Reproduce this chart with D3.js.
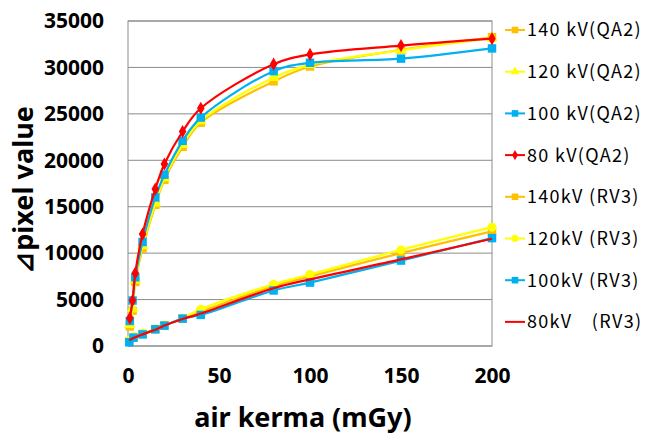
<!DOCTYPE html>
<html>
<head>
<meta charset="utf-8">
<script src="https://cdn.jsdelivr.net/npm/d3@7"></script>
<style>
  body { margin: 0; background: #fff; }
  .axis text { font-family: "Noto Sans", sans-serif; font-weight: bold; font-size: 21px; fill: #000; }
  .axis-title { font-family: "Noto Sans", sans-serif; font-weight: bold; font-size: 27px; fill: #000; }
  .legend text { font-family: "Noto Sans CJK JP", sans-serif; font-size: 18px; letter-spacing: 1.3px; fill: #000; }
</style>
</head>
<body>
<div class="chart"></div>
<script>
// air kerma (mGy) sample points
let xQA2 = [1, 2.5, 4, 8, 15, 20, 30, 40, 80, 100, 150, 200];
let xRV3 = [0.7, 3, 8, 15, 20, 30, 40, 80, 100, 150, 200];

// delta pixel value, QA2
let qa2_140 = [2100, 3800, 6900, 10500, 15200, 17900, 21450, 24050, 28500, 30100, 31900, 33250];
let qa2_120 = [2300, 4000, 7100, 10800, 15400, 18100, 21700, 24250, 28900, 30300, 31850, 33150];
let qa2_100 = [2700, 4900, 7400, 11200, 16000, 18450, 22100, 24600, 29600, 30500, 30950, 32050];
let qa2_80  = [3000, 4900, 7850, 12050, 16900, 19600, 23100, 25600, 30350, 31400, 32350, 33100];

// delta pixel value, RV3
let rv3_140 = [500, 900, 1300, 1800, 2200, 2950, 3700, 6450, 7500, 10000, 12350];
let rv3_120 = [600, 1000, 1350, 1850, 2250, 3000, 3950, 6650, 7700, 10350, 12800];
let rv3_100 = [400, 900, 1250, 1800, 2200, 2950, 3350, 5980, 6830, 9200, 11620];
let rv3_80  = [600, 850, 1250, 1750, 2200, 2900, 3500, 6220, 7180, 9330, 11550];

let seriesNames = ["140 kV(QA2)", "120 kV(QA2)", "100 kV(QA2)", "80 kV(QA2)",
                   "140kV (RV3)", "120kV (RV3)", "100kV (RV3)", "80kV\u3000(RV3)"];
let yTicks = [0, 5000, 10000, 15000, 20000, 25000, 30000, 35000];
let xTicks = [0, 50, 100, 150, 200];

let series = [
    {name: seriesNames[0], x: xQA2, y: qa2_140, color: "#FFC000", marker: "square"},
    {name: seriesNames[1], x: xQA2, y: qa2_120, color: "#FFFF00", marker: "triangle"},
    {name: seriesNames[2], x: xQA2, y: qa2_100, color: "#00B0F0", marker: "square"},
    {name: seriesNames[3], x: xQA2, y: qa2_80,  color: "#FF0000", marker: "diamond"},
    {name: seriesNames[4], x: xRV3, y: rv3_140, color: "#FFC000", marker: "square"},
    {name: seriesNames[5], x: xRV3, y: rv3_120, color: "#FFFF00", marker: "circle"},
    {name: seriesNames[6], x: xRV3, y: rv3_100, color: "#00B0F0", marker: "square"},
    {name: seriesNames[7], x: xRV3, y: rv3_80,  color: "#FF0000", marker: "none"}
];

function init() {
    let margin = {top: 21, right: 158, bottom: 90, left: 128};
    let width = 650 - margin.left - margin.right;
    let height = 436 - margin.top - margin.bottom;

    let xScale = d3.scaleLinear().domain([0, 200]).range([0, width]);
    let yScale = d3.scaleLinear().domain([0, 35000]).range([height, 0]);

    let svg = d3.select(".chart").append("svg")
        .attr("width", 650)
        .attr("height", 436);

    let plot = svg.append("g")
        .attr("transform", `translate(${margin.left},${margin.top})`);

    // horizontal gridlines
    plot.append("g").selectAll("line")
        .data(yTicks)
        .enter().append("line")
        .attr("x1", 0).attr("x2", width)
        .attr("y1", d => yScale(d)).attr("y2", d => yScale(d))
        .attr("stroke", "#8c8c8c").attr("stroke-width", 1);

    // plot frame
    plot.append("rect")
        .attr("width", width).attr("height", height)
        .attr("fill", "none").attr("stroke", "#8c8c8c").attr("stroke-width", 1);

    // axes, labels only
    let yAxis = plot.append("g").attr("class", "axis")
        .call(d3.axisLeft(yScale).tickValues(yTicks).tickFormat(d3.format("d")).tickSize(0).tickPadding(24));
    yAxis.select(".domain").remove();

    let xAxis = plot.append("g").attr("class", "axis")
        .attr("transform", `translate(0,${height})`)
        .call(d3.axisBottom(xScale).tickValues(xTicks).tickFormat(d3.format("d")).tickSize(0).tickPadding(22));
    xAxis.select(".domain").remove();

    svg.append("text").attr("class", "axis-title")
        .attr("x", margin.left + width / 2 - 7).attr("y", 427)
        .attr("text-anchor", "middle")
        .text("air kerma (mGy)");

    svg.append("text").attr("class", "axis-title")
        .attr("transform", "translate(33,190) rotate(-90)")
        .attr("text-anchor", "middle")
        .text("\u22BFpixel value");

    let line = d3.line().curve(d3.curveCatmullRom.alpha(0.5));

    let symbolOf = {
        square: d3.symbolSquare,
        triangle: d3.symbolTriangle,
        diamond: d3.symbolDiamond,
        circle: d3.symbolCircle
    };
    let sizeOf = {square: 72, triangle: 60, diamond: 50, circle: 64};

    series.forEach(s => {
        let pts = s.x.map((x, i) => [xScale(x), yScale(s.y[i])]);
        plot.append("path")
            .attr("d", line(pts))
            .attr("fill", "none")
            .attr("stroke", s.color)
            .attr("stroke-width", 2.2);
        if (s.marker !== "none") {
            plot.append("g").selectAll("path")
                .data(pts)
                .enter().append("path")
                .attr("transform", d => `translate(${d[0]},${d[1]})`)
                .attr("d", d3.symbol().type(symbolOf[s.marker]).size(sizeOf[s.marker]))
                .attr("fill", s.color);
        }
    });

    // legend
    let legend = svg.append("g").attr("class", "legend")
        .attr("transform", "translate(505,30)");
    let rows = legend.selectAll("g")
        .data(series)
        .enter().append("g")
        .attr("transform", (d, i) => `translate(0,${i * 41.7})`);
    rows.append("line")
        .attr("x1", 0).attr("x2", 20)
        .attr("stroke", d => d.color).attr("stroke-width", 2);
    rows.filter(d => d.marker !== "none").append("path")
        .attr("transform", "translate(10,0)")
        .attr("d", d => d3.symbol().type(symbolOf[d.marker]).size(sizeOf[d.marker] * 0.6)())
        .attr("fill", d => d.color);
    rows.append("text")
        .attr("x", 22).attr("dy", "0.36em")
        .text(d => d.name);
}

init();
</script>
</body>
</html>
